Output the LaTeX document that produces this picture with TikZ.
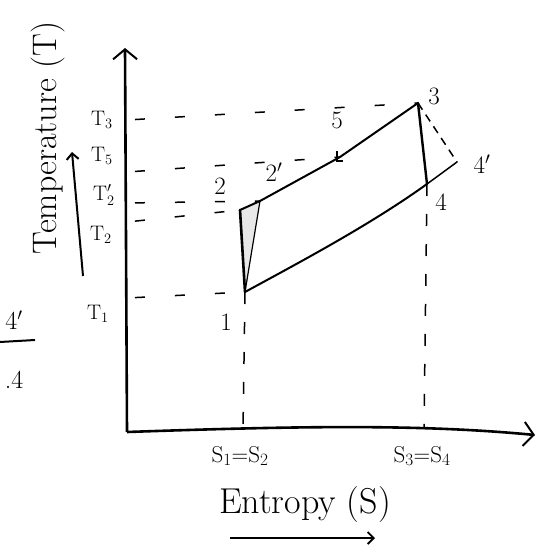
\documentclass[tikz,border=0pt]{standalone}
\usepackage{fontspec}
\usetikzlibrary{arrows.meta}
\begin{document}
\begin{tikzpicture}[x=1pt,y=-1pt,
  axis/.style={line width=2.6pt,-{Straight Barb[length=10pt,width=24pt,line width=2pt]}},
  cyc/.style={line width=2pt,line join=round,line cap=round},
  guide/.style={line width=1.5pt,dash pattern=on 10pt off 30pt},
  vguide/.style={line width=1.5pt,dash pattern=on 12pt off 18pt},
  lab/.style={font=\fontsize{25}{28}\selectfont,inner sep=1pt},
  tlab/.style={font=\fontsize{21}{24}\selectfont,inner sep=1pt},
  slab/.style={font=\fontsize{23}{26}\selectfont,inner sep=1pt}]
\useasboundingbox (0,0) rectangle (543,549);
% origin and axes
\coordinate (O) at (127,432);
\coordinate (ytip) at (125,48);
\coordinate (xtip) at (535,435);
\draw[axis] (O) -- (ytip);
\draw[axis] (O) .. controls (300,426) and (420,424) .. (xtip);
% cycle points
\coordinate (p1) at (245,292);
\coordinate (p2) at (240,210);
\coordinate (p2p) at (260,201);
\coordinate (p5) at (340,157);
\coordinate (p3) at (418,103);
\coordinate (p4) at (427,184);
\coordinate (p4p) at (457,162);
% axis points for guides
\coordinate (a3) at (127,120);
\coordinate (a5) at (127,172);
\coordinate (a2p) at (127,203);
\coordinate (a2) at (127,222);
\coordinate (a1) at (127,298);
\coordinate (b1) at (243,430);
\coordinate (b4) at (424,428);
% dashed guides
\draw[guide,dash phase=-8pt] (a3) -- (p3);
\draw[guide,dash phase=-8pt] (a5) -- (p5);
\draw[guide,dash phase=-8pt] (a2p) -- (p2p);
\draw[guide,dash phase=-8pt] (a2) -- (p2);
\draw[guide,dash phase=-8pt] (a1) -- (p1);
\draw[vguide] (p1) -- (b1);
\draw[vguide] (p4) -- (b4);
% shaded irreversibility triangle
\fill[gray!18] (p1) -- (p2) -- (p2p) -- cycle;
\draw[cyc,line width=2.6pt] (p1) -- (p2);
\draw[cyc] (p2) -- (p2p);
\draw[line width=1.2pt] (p1) -- (p2p);
% cycle
\draw[cyc] (p2p) -- (p5) -- (p3);
\draw[cyc,line width=2.4pt] (p3) -- (p4);
\draw[cyc] (p1) .. controls (300,262) and (370,225) .. (p4);
\draw[cyc,line width=1.5pt] (p4) -- (p4p);
\draw[line width=1.5pt,dash pattern=on 8pt off 6pt] (p3) -- (p4p);
\draw[line width=1.8pt] (p5) ++(-3,-6) -- ++(0,10) -- ++(6,0);
% point labels
\node[lab] (l3) at (434,96) {3};
\node[lab] (l5) at (337,120) {5};
\node[lab] (l2p) at (274,172) {2$'$};
\node[lab] (l2) at (220,186) {2};
\node[lab] (l4p) at (482,164) {4$'$};
\node[lab] (l4) at (441,202) {4};
\node[lab] (l1) at (226,322) {1};
% temperature labels
\node[tlab] (t3) at (102,120) {T$_3$};
\node[tlab] (t5) at (102,156) {T$_5$};
\node[tlab] (t2p) at (104,195) {T$_2'$};
\node[tlab] (t2) at (101,235) {T$_2$};
\node[tlab] (t1) at (98,314) {T$_1$};
% entropy labels
\node[slab] (s12) at (240,456) {S$_1$=S$_2$};
\node[slab] (s34) at (422,456) {S$_3$=S$_4$};
% axis titles
\node[font=\fontsize{36}{40}\selectfont] (ent) at (305,505) {Entropy (S)};
\coordinate (ea) at (230,538);
\coordinate (eb) at (375,538);
\draw[line width=1.8pt,-{Straight Barb[length=6pt,width=12pt]}] (ea) -- (eb);
\node[font=\fontsize{34}{38}\selectfont,rotate=90] (temp) at (48,138) {Temperature (T)};
\coordinate (ta) at (83,276);
\coordinate (tb) at (72,152);
\draw[line width=2pt,-{Straight Barb[length=6pt,width=12pt]}] (ta) -- (tb);
% fragment at left edge
\node[font=\fontsize{26}{30}\selectfont] (f1) at (14,320) {4$'$};
\coordinate (fa) at (0,342);
\coordinate (fb) at (35,340);
\draw[line width=2pt] (fa) -- (fb);
\node[font=\fontsize{26}{30}\selectfont] (f2) at (14,380) {.4};
\end{tikzpicture}
\end{document}
